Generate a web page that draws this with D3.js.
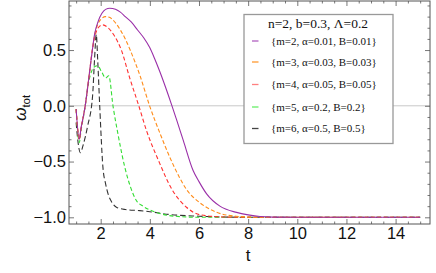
<!DOCTYPE html>
<html><head><meta charset="utf-8">
<script src="https://cdn.jsdelivr.net/npm/d3@7"></script>
<style>body{margin:0;background:#fff}svg{display:block}</style>
</head><body>
<svg id="c" width="436" height="273"></svg>
<script>
// ---- data ----
const t2 = [1.0,1.13,1.2,1.29,1.37,1.5,1.66,1.75,1.9,2.05,2.2,2.37,2.6,2.8,3.0,3.25,3.5,3.75,4.0,4.2,4.4,4.65,4.9,5.08,5.36,5.76,6.0,6.31,6.85,7.53,8.0,8.48,9.0,10,12,15];
const v2 = [-0.03,-0.30,-0.20,-0.10,0.0,0.22,0.50,0.64,0.76,0.83,0.865,0.875,0.865,0.84,0.80,0.75,0.68,0.61,0.52,0.42,0.31,0.16,0.0,-0.12,-0.31,-0.58,-0.68,-0.79,-0.90,-0.956,-0.978,-0.993,-0.998,-1.0,-1.0,-1.0];
const t3 = [1.0,1.13,1.2,1.29,1.37,1.5,1.66,1.75,1.9,2.05,2.19,2.35,2.5,2.8,3.0,3.2,3.6,3.99,4.4,4.81,5.2,5.49,6.04,6.72,7.5,8.5,10,12,15];
const v3 = [-0.03,-0.30,-0.20,-0.10,0.0,0.22,0.50,0.63,0.74,0.785,0.80,0.795,0.77,0.68,0.60,0.50,0.27,0.0,-0.24,-0.46,-0.64,-0.75,-0.87,-0.955,-0.99,-1.0,-1.0,-1.0,-1.0];
const t4 = [1.0,1.13,1.2,1.29,1.37,1.5,1.66,1.75,1.9,2.07,2.3,2.55,2.84,3.18,3.55,3.86,4.35,4.9,5.49,6.04,7.0,8.0,10,12,15];
const v4 = [-0.03,-0.30,-0.20,-0.10,0.0,0.22,0.50,0.61,0.70,0.726,0.70,0.63,0.50,0.25,0.0,-0.22,-0.49,-0.75,-0.91,-0.977,-0.997,-1.0,-1.0,-1.0,-1.0];
const t5 = [1.0,1.13,1.2,1.29,1.37,1.5,1.65,1.75,1.87,2.05,2.2,2.33,2.5,2.7,2.98,3.2,3.45,3.72,4.27,5.0,6.0,8,10,12,15];
const v5 = [-0.03,-0.33,-0.22,-0.11,0.0,0.20,0.32,0.35,0.36,0.30,0.25,0.27,0.0,-0.25,-0.55,-0.72,-0.85,-0.90,-0.956,-0.99,-1.0,-1.0,-1.0,-1.0,-1.0];
const t6 = [1.0,1.08,1.17,1.3,1.47,1.67,1.75,1.82,1.88,1.96,2.09,2.2,2.3,2.44,2.64,3.0,3.59,4.0,4.81,6.0,8.0,10,12,15];
const v6 = [-0.15,-0.33,-0.42,-0.34,-0.18,0.09,0.42,0.64,0.40,0.0,-0.55,-0.70,-0.79,-0.86,-0.91,-0.93,-0.94,-0.95,-0.975,-0.99,-1.0,-1.0,-1.0,-1.0];

const xTicks = [2,4,6,8,10,12,14];
const yTicks = [-1.0,-0.5,0.0,0.5];
const legendTitle = "n=2, b=0.3, \u039B=0.2";
const seriesLabels = ["{m=2, \u03B1=0.01, B=0.01}","{m=3, \u03B1=0.03, B=0.03}","{m=4, \u03B1=0.05, B=0.05}","{m=5, \u03B1=0.2, B=0.2}","{m=6, \u03B1=0.5, B=0.5}"];
const seriesColors = ["#9a2fa8","#ff8c1a","#ff3030","#33dd33","#333333"];
const legendColors = ["#b060c0","#ff9a30","#ff8080","#66ee66","#444444"];
const seriesDash = [null,"4,2.2","4,2.5","4,2.5","5.5,3"];

const series = [[t2,v2],[t3,v3],[t4,v4],[t5,v5],[t6,v6]].map(([t,v],i)=>({pts:t.map((x,j)=>[x,v[j]]),i}));

// ---- layout ----
const L=69, R=430, T=1, B=224;
const svg = d3.select("#c");
const x = d3.scaleLinear().domain([0.71,15.4]).range([L,R]);
const y = d3.scaleLinear().domain([-1.06,0.94]).range([B,T]);

// zero gridline
svg.append("line").attr("x1",L).attr("x2",R).attr("y1",y(0)).attr("y2",y(0))
  .attr("stroke","#c8c8c8").attr("stroke-width",1);

// curves
svg.append("clipPath").attr("id","cp").append("rect").attr("x",L).attr("y",T).attr("width",R-L).attr("height",B-T);
const line = d3.line().x(d=>x(d[0])).y(d=>y(d[1])).curve(d3.curveMonotoneX);
const g = svg.append("g").attr("clip-path","url(#cp)");
[...series].reverse().forEach(s=>{
  g.append("path").attr("d",line(s.pts)).attr("fill","none")
   .attr("stroke",seriesColors[s.i]).attr("stroke-width",1.1)
   .attr("stroke-dasharray",seriesDash[s.i]);
});

// frame axes with inward ticks
const fc="#555";
const minorX = d3.range(1,15.5,0.5).filter(v=>!xTicks.includes(v));
const minorY = d3.range(-1.0,0.95,0.1).map(v=>+v.toFixed(2)).filter(v=>!yTicks.includes(v));
const ax = [
  [d3.axisBottom(x).tickValues(xTicks).tickSize(-5).tickFormat(d=>d), `translate(0,${B})`],
  [d3.axisBottom(x).tickValues(minorX).tickSize(-2.5).tickFormat(""), `translate(0,${B})`],
  [d3.axisTop(x).tickValues(xTicks).tickSize(-5).tickFormat(""), `translate(0,${T})`],
  [d3.axisTop(x).tickValues(minorX).tickSize(-2.5).tickFormat(""), `translate(0,${T})`],
  [d3.axisLeft(y).tickValues(yTicks).tickSize(-5).tickFormat(d3.format(".1f")), `translate(${L},0)`],
  [d3.axisLeft(y).tickValues(minorY).tickSize(-2.5).tickFormat(""), `translate(${L},0)`],
  [d3.axisRight(y).tickValues(yTicks).tickSize(-5).tickFormat(""), `translate(${R},0)`],
  [d3.axisRight(y).tickValues(minorY).tickSize(-2.5).tickFormat(""), `translate(${R},0)`],
];
ax.forEach(([a,tr])=>{
  const gg = svg.append("g").attr("transform",tr).call(a.tickPadding(3));
  gg.select(".domain").remove();
  gg.selectAll(".tick line").attr("stroke",fc).attr("stroke-width",0.8);
  gg.selectAll(".tick text").attr("fill","#111").style("font-family","'Liberation Sans',Arial,sans-serif").style("font-size","16.5px");
});
svg.selectAll(".tick text").each(function(){
  const t=d3.select(this); t.text(t.text().replace("-","\u2212"));
});
svg.append("rect").attr("x",L).attr("y",T).attr("width",R-L).attr("height",B-T)
  .attr("fill","none").attr("stroke",fc).attr("stroke-width",1);

// axis labels
svg.append("text").attr("x",x(8)).attr("y",261).attr("text-anchor","middle")
  .style("font-family","'Liberation Sans',Arial,sans-serif").style("font-size","17px").attr("fill","#111").text("t");
const yl = svg.append("text").attr("transform",`translate(26,${y(0)+2}) rotate(-90)`).attr("text-anchor","middle")
  .style("font-family","'Liberation Sans',Arial,sans-serif").style("font-size","17px").attr("fill","#111");
yl.append("tspan").style("font-style","italic").text("\u03C9");
yl.append("tspan").attr("dy",4).style("font-size","11.5px").text("tot");

// legend
const lg = svg.append("g");
lg.append("rect").attr("x",244).attr("y",14.5).attr("width",149).attr("height",129)
  .attr("fill","#fff").attr("stroke","#999").attr("stroke-width",1.3);
lg.append("text").attr("x",318).attr("y",28).attr("text-anchor","middle")
  .style("font-family","'Liberation Serif','Times New Roman',serif").style("font-size","13.5px").attr("fill","#111").text(legendTitle);
const ly = [41,62,84.5,107,128.5];
seriesLabels.forEach((s,i)=>{
  lg.append("line").attr("x1",252).attr("x2",258.5).attr("y1",ly[i]).attr("y2",ly[i])
    .attr("stroke",legendColors[i]).attr("stroke-width",1.3);
  lg.append("text").attr("x",271).attr("y",ly[i]+3.5)
    .style("font-family","'Liberation Serif','Times New Roman',serif").style("font-size","11px").attr("fill","#111").text(s);
});
</script>
</body></html>
